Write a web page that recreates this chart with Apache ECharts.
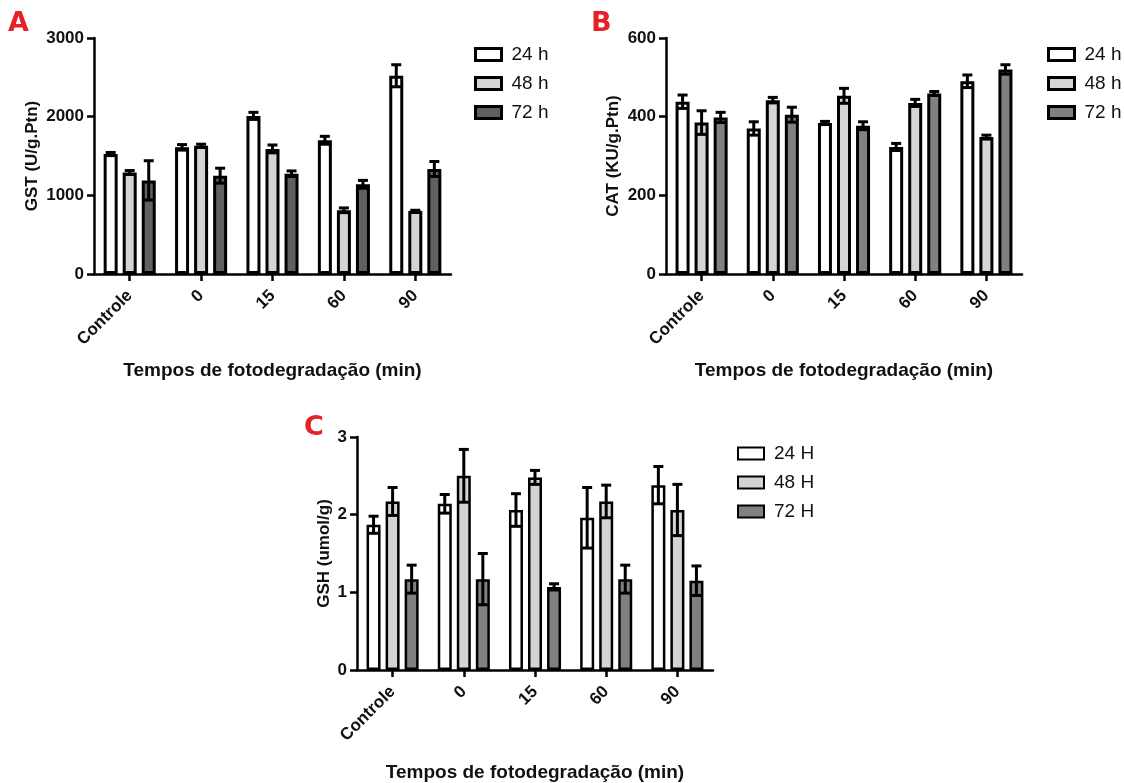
<!DOCTYPE html>
<html>
<head>
<meta charset="utf-8">
<title>GST, CAT e GSH</title>
<script src="https://cdn.jsdelivr.net/npm/echarts@6/dist/echarts.min.js"></script>
<style>
	html, body { margin: 0; padding: 0; background: #fff; }
	#chart { width: 1124px; height: 783px; }
</style>
</head>
<body>
<div id="chart"></div>
<script>
// categorias e valores
var cats = ['Controle', '0', '15', '60', '90'];

var gst24 = [1525, 1610, 2010, 1700, 2520];
var gst24Err = [20, 35, 45, 50, 140];
var gst48 = [1290, 1630, 1590, 810, 800];
var gst48Err = [25, 20, 50, 30, 10];
var gst72 = [1190, 1250, 1275, 1140, 1335];
var gst72Err = [250, 95, 35, 50, 95];

var cat24 = [438, 370, 384, 323, 490];
var cat24Err = [17, 17, 4, 9, 16];
var cat48 = [385, 442, 453, 435, 348];
var cat48Err = [30, 7, 19, 9, 5];
var cat72 = [398, 405, 377, 459, 520];
var cat72Err = [13, 19, 10, 5, 12];

var gsh24 = [1.87, 2.14, 2.06, 1.96, 2.38];
var gsh24Err = [0.11, 0.12, 0.21, 0.39, 0.24];
var gsh48 = [2.17, 2.50, 2.48, 2.17, 2.06];
var gsh48Err = [0.18, 0.34, 0.09, 0.21, 0.33];
var gsh72 = [1.17, 1.17, 1.07, 1.17, 1.15];
var gsh72Err = [0.18, 0.33, 0.04, 0.18, 0.19];

var namesH = ['24 h', '48 h', '72 h'];
var namesC = ['24 H', '48 H', '72 H'];
var yTicksA = [0, 3000, 1000];
var yTicksB = [0, 600, 200];
var yTicksC = [0, 3, 1];

var FONT = 'Liberation Sans, Arial, sans-serif';
var colorsA = ['#ffffff', '#d4d4d4', '#606060'];
var colorsB = ['#ffffff', '#d4d4d4', '#808080'];

var BAR_W = 14;
var BAR_GAP = 0.36;

function yAxis(grid, ticks, name, gap){
	return {
		type: 'value',
		gridIndex: grid,
		min: ticks[0],
		max: ticks[1],
		interval: ticks[2],
		name: name,
		nameLocation: 'middle',
		nameGap: gap,
		nameTextStyle: { fontSize: 17, fontWeight: 'bold', color: '#111', fontFamily: FONT },
		axisLine: { show: true, lineStyle: { color: '#000', width: 2.5 } },
		axisTick: { show: true, length: 7, lineStyle: { color: '#000', width: 2.5 } },
		axisLabel: {
			fontSize: 17, fontWeight: 'bold', color: '#111', margin: 10, fontFamily: FONT,
			formatter: function(v){ return String(v); }
		},
		splitLine: { show: false }
	};
}

function xAxis(grid, gap){
	return {
		type: 'category',
		gridIndex: grid,
		data: cats,
		name: 'Tempos de fotodegradação (min)',
		nameLocation: 'middle',
		nameGap: gap,
		nameTextStyle: { fontSize: 19, fontWeight: 'bold', color: '#111', fontFamily: FONT },
		axisLine: { show: true, lineStyle: { color: '#000', width: 2.5 } },
		axisTick: { show: true, alignWithLabel: true, length: 7, lineStyle: { color: '#000', width: 2.5 } },
		axisLabel: { interval: 0, rotate: 45, margin: 19, fontSize: 17, fontWeight: 'bold', color: '#111', fontFamily: FONT }
	};
}

function bar(name, idx, data, color, border){
	return {
		type: 'bar',
		name: name,
		xAxisIndex: idx,
		yAxisIndex: idx,
		data: data,
		barWidth: BAR_W,
		barGap: (BAR_GAP * 100) + '%',
		itemStyle: { color: color, borderColor: '#000', borderWidth: border },
		emphasis: { disabled: true },
		z: 2
	};
}

function errorBars(idx, vals, errs, k){
	var shift = (k - 1) * BAR_W * (1 + BAR_GAP);
	var data = [];
	for(var i=0; i<vals.length; i++){
		data.push([i, vals[i], errs[i]]);
	}
	return {
		type: 'custom',
		xAxisIndex: idx,
		yAxisIndex: idx,
		data: data,
		encode: { x: 0, y: 1 },
		z: 5,
		silent: true,
		renderItem: function(params, api){
			var i = api.value(0), v = api.value(1), e = api.value(2);
			var hi = api.coord([i, v + e]);
			var lo = api.coord([i, v - e]);
			var x = hi[0] + shift;
			var st = { stroke: '#000', lineWidth: 3 };
			return {
				type: 'group',
				children: [
					{ type: 'line', shape: { x1: x, y1: hi[1], x2: x, y2: lo[1] }, style: st },
					{ type: 'line', shape: { x1: x - 5, y1: hi[1], x2: x + 5, y2: hi[1] }, style: st },
					{ type: 'line', shape: { x1: x - 5, y1: lo[1], x2: x + 5, y2: lo[1] }, style: st }
				]
			};
		}
	};
}

function legend(names, colors, left, top, border){
	var data = [];
	for(var i=0; i<names.length; i++){
		data.push({
			name: names[i],
			icon: 'rect',
			itemStyle: { color: colors[i], borderColor: '#000', borderWidth: border }
		});
	}
	return {
		orient: 'vertical',
		left: left,
		top: top,
		padding: 0,
		itemWidth: 26,
		itemHeight: 12,
		itemGap: 10,
		selectedMode: false,
		data: data,
		textStyle: { fontSize: 19, color: '#111', fontFamily: FONT, padding: [0, 0, 0, 5] }
	};
}

function panelTitle(text, left, top){
	return {
		text: text,
		left: left,
		top: top,
		padding: 0,
		textStyle: { fontSize: 27, fontWeight: 'bold', color: '#e8202a', fontFamily: 'DejaVu Sans' }
	};
}

var chart = echarts.init(document.getElementById('chart'));

var option = {
	animation: false,
	backgroundColor: '#fff',
	title: [
		panelTitle('A', 8, 10),
		panelTitle('B', 591, 10),
		panelTitle('C', 304, 414)
	],
	legend: [
		legend(namesH, colorsA, 474, 45, 3),
		legend(namesH, colorsB, 1047, 45, 3),
		legend(namesC, colorsB, 737, 444, 2)
	],
	grid: [
		{ left: 94, top: 38, width: 357, height: 236 },
		{ left: 666, top: 38, width: 356, height: 236 },
		{ left: 357, top: 437, width: 356, height: 236 }
	],
	xAxis: [xAxis(0, 87), xAxis(1, 87), xAxis(2, 93)],
	yAxis: [
		yAxis(0, yTicksA, 'GST (U/g.Ptn)', 53),
		yAxis(1, yTicksB, 'CAT (KU/g.Ptn)', 44),
		yAxis(2, yTicksC, 'GSH (umol/g)', 24)
	],
	series: [
		bar(namesH[0], 0, gst24, colorsA[0], 3),
		bar(namesH[1], 0, gst48, colorsA[1], 3),
		bar(namesH[2], 0, gst72, colorsA[2], 3),
		errorBars(0, gst24, gst24Err, 0),
		errorBars(0, gst48, gst48Err, 1),
		errorBars(0, gst72, gst72Err, 2),

		bar(namesH[0], 1, cat24, colorsB[0], 3),
		bar(namesH[1], 1, cat48, colorsB[1], 3),
		bar(namesH[2], 1, cat72, colorsB[2], 3),
		errorBars(1, cat24, cat24Err, 0),
		errorBars(1, cat48, cat48Err, 1),
		errorBars(1, cat72, cat72Err, 2),

		bar(namesC[0], 2, gsh24, colorsB[0], 2.5),
		bar(namesC[1], 2, gsh48, colorsB[1], 2.5),
		bar(namesC[2], 2, gsh72, colorsB[2], 2.5),
		errorBars(2, gsh24, gsh24Err, 0),
		errorBars(2, gsh48, gsh48Err, 1),
		errorBars(2, gsh72, gsh72Err, 2)
	]
};

chart.setOption(option);
</script>
</body>
</html>
